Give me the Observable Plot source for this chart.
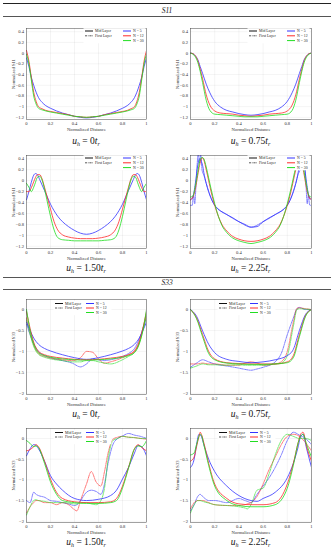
<!DOCTYPE html>
<html><head><meta charset="utf-8">
<script src="https://cdn.jsdelivr.net/npm/d3@7"></script>
<script src="https://cdn.jsdelivr.net/npm/@observablehq/plot@0.6"></script>
<style>
html,body{margin:0;padding:0;background:#fff;}
#fig{position:relative;width:334px;height:550px;overflow:hidden;font-family:"Liberation Serif","DejaVu Serif",serif;}
.rule{position:absolute;left:3px;width:328px;}
.sec{position:absolute;left:0;width:334px;text-align:center;font-style:italic;font-size:7.5px;line-height:8px;color:#222}
.cap{position:absolute;width:160px;text-align:center;font-size:9.5px;line-height:10px;color:#111;white-space:nowrap}
.cap sub{font-size:6px;vertical-align:-2px;line-height:0}
.panel{position:absolute}
</style></head><body><div id="fig"></div>
<script>
// ---------- data ----------
const Ns = [5, 12, 30];
const nColors = ["#3535ff", "#ff2a2a", "#22dd22"];
const xTicks = [0, 0.2, 0.4, 0.6, 0.8, 1];
const s11Ticks = [0.4, 0.2, 0, -0.2, -0.4, -0.6, -0.8, -1, -1.2];
const s33Ticks = [0, -0.5, -1, -1.5, -2];
const legendLayers = ["Mid Layer", "First Layer"];
const legendNs = ["N = 5", "N = 12", "N = 30"];
const sectionTitles = ["S11", "S33"];
const captionValues = ["0", "0.75", "1.50", "2.25"];

// S11, u_h = 0 t_r
const x_s11_u0 = [0,.02,.04,.06,.08,.1,.13,.16,.2,.25,.3,.35,.4,.45,.5,.55,.6,.65,.7,.75,.8,.84,.87,.9,.92,.94,.96,.98,1];
const s11_u0_n5  = [-.09,-.25,-.45,-.6,-.73,-.83,-.92,-.98,-1.03,-1.08,-1.12,-1.15,-1.18,-1.2,-1.21,-1.2,-1.18,-1.15,-1.12,-1.08,-1.03,-.98,-.92,-.83,-.73,-.6,-.45,-.25,-.09];
const s11_u0_n12 = [.05,-.15,-.45,-.73,-.9,-1.0,-1.04,-1.07,-1.09,-1.11,-1.13,-1.15,-1.18,-1.19,-1.2,-1.19,-1.18,-1.15,-1.13,-1.11,-1.09,-1.07,-1.04,-1.0,-.9,-.73,-.45,-.15,.05];
const s11_u0_n30 = [-.02,-.2,-.5,-.8,-.95,-1.03,-1.06,-1.08,-1.1,-1.12,-1.14,-1.16,-1.18,-1.19,-1.2,-1.19,-1.18,-1.16,-1.14,-1.12,-1.1,-1.08,-1.06,-1.03,-.95,-.8,-.5,-.2,-.02];

// S11, u_h = 0.75 t_r
const x_s11_u075 = [0,.02,.04,.06,.08,.1,.13,.16,.2,.25,.3,.35,.4,.45,.5,.55,.6,.65,.7,.75,.8,.84,.87,.9,.92,.94,.96,.98,1];
const s11_u075_n5  = [0,-.01,-.05,-.12,-.25,-.38,-.58,-.74,-.9,-1.01,-1.07,-1.1,-1.13,-1.15,-1.16,-1.15,-1.13,-1.1,-1.07,-1.01,-.9,-.74,-.58,-.38,-.25,-.12,-.05,-.01,0];
const s11_u075_n12 = [0,-.01,-.05,-.14,-.3,-.48,-.78,-.97,-1.08,-1.12,-1.13,-1.14,-1.16,-1.17,-1.18,-1.17,-1.16,-1.14,-1.13,-1.12,-1.08,-.97,-.78,-.48,-.3,-.14,-.05,-.01,0];
const s11_u075_n30 = [0,-.02,-.07,-.17,-.34,-.55,-.88,-1.07,-1.14,-1.15,-1.16,-1.17,-1.18,-1.19,-1.19,-1.19,-1.18,-1.17,-1.16,-1.15,-1.14,-1.07,-.88,-.55,-.34,-.17,-.07,-.02,0];

// S11, u_h = 1.50 t_r
const x_s11_u150 = [0,.02,.04,.06,.075,.09,.11,.13,.15,.17,.2,.23,.26,.3,.35,.4,.45,.5,.55,.6,.65,.7,.74,.77,.8,.83,.85,.87,.89,.91,.925,.94,.96,.98,1];
const s11_u150_n5  = [-.35,-.2,-.03,.1,.13,.11,.02,-.08,-.18,-.28,-.43,-.55,-.65,-.75,-.84,-.91,-.96,-.98,-.96,-.91,-.84,-.75,-.65,-.55,-.43,-.28,-.18,-.08,.02,.11,.13,.1,-.03,-.2,-.35];
const s11_u150_n12 = [-.2,-.2,-.13,-.02,.06,.11,.11,.03,-.12,-.28,-.52,-.75,-.9,-.99,-1.03,-1.05,-1.06,-1.06,-1.06,-1.05,-1.03,-.99,-.9,-.75,-.52,-.28,-.12,.03,.11,.11,.06,-.02,-.13,-.2,-.2];
const s11_u150_n30 = [-.05,-.12,-.2,-.12,-.03,.06,.08,.01,-.15,-.35,-.65,-.9,-1.04,-1.08,-1.09,-1.1,-1.1,-1.1,-1.1,-1.1,-1.09,-1.08,-1.04,-.9,-.65,-.35,-.15,.01,.08,.06,-.03,-.12,-.2,-.12,-.05];

// S11, u_h = 2.25 t_r
const x_s11_u225 = [0,.02,.04,.06,.075,.09,.1,.11,.13,.15,.17,.2,.23,.26,.3,.35,.4,.45,.5,.55,.6,.65,.7,.74,.77,.8,.83,.85,.87,.89,.9,.91,.925,.94,.96,.98,1];
const s11_u225_n5  = [-.35,-.3,-.05,.28,.4,.35,.28,.15,-.05,-.2,-.32,-.45,-.52,-.57,-.62,-.68,-.75,-.8,-.85,-.84,-.75,-.68,-.62,-.57,-.52,-.45,-.32,-.2,-.05,.15,.28,.35,.4,.28,-.05,-.3,-.35];
const s11_u225_n12 = [-.35,-.3,-.15,.1,.28,.4,.42,.38,.2,0,-.2,-.45,-.65,-.8,-.92,-1.02,-1.07,-1.1,-1.11,-1.1,-1.07,-1.02,-.92,-.8,-.65,-.45,-.2,0,.2,.38,.42,.4,.28,.1,-.15,-.3,-.35];
const s11_u225_n30 = [-.3,-.28,-.1,.15,.35,.42,.42,.4,.25,.05,-.15,-.42,-.65,-.82,-.95,-1.05,-1.1,-1.13,-1.15,-1.13,-1.1,-1.05,-.95,-.82,-.65,-.42,-.15,.05,.25,.4,.42,.42,.35,.15,-.1,-.28,-.3];
const xf_s11_u225 = [0,.015,.025,.035,.045,.055,.065,.075,.085,.095,.11,.13,.15,.2,.3,.4,.5,.6,.7,.8,.85,.87,.89,.905,.915,.925,.935,.945,.955,.965,.975,.985,1];
const s11_u225_first_n5 = [-.45,-.45,-.25,-.42,-.1,.3,.5,.32,.48,.2,.1,-.05,-.2,-.45,-.62,-.75,-.85,-.75,-.62,-.45,-.2,-.05,.12,.2,.48,.32,.5,.3,-.1,-.42,-.25,-.45,-.45];

// S33, u_h = 0 t_r
const x_s33_u0_mid = [0,.03,.06,.1,.15,.2,.3,.4,.5,.6,.7,.8,.85,.9,.94,.97,1];
const s33_u0_mid_n5  = [-.3,-.5,-.68,-.83,-.93,-.99,-1.08,-1.15,-1.19,-1.15,-1.08,-.99,-.93,-.83,-.68,-.5,-.3];
const s33_u0_mid_n12 = [-.05,-.45,-.78,-1.0,-1.08,-1.12,-1.16,-1.19,-1.2,-1.19,-1.16,-1.12,-1.08,-1.0,-.78,-.45,-.05];
const s33_u0_mid_n30 = [0,-.5,-.82,-1.03,-1.1,-1.14,-1.18,-1.2,-1.21,-1.2,-1.18,-1.14,-1.1,-1.03,-.82,-.5,0];
const x_s33_u0_first = [0,.03,.06,.1,.15,.2,.3,.38,.45,.5,.55,.6,.65,.7,.8,.85,.9,.94,.97,1];
const s33_u0_first_n5  = [-.35,-.6,-.82,-1.0,-1.1,-1.15,-1.22,-1.28,-1.37,-1.3,-1.18,-1.2,-1.22,-1.2,-1.12,-1.05,-.93,-.7,-.45,-.2];
const s33_u0_first_n12 = [-.2,-.55,-.85,-1.05,-1.12,-1.16,-1.2,-1.22,-1.15,-1.0,-1.02,-1.18,-1.28,-1.25,-1.15,-1.08,-.98,-.75,-.45,-.1];
const s33_u0_first_n30 = [-.25,-.6,-.88,-1.07,-1.14,-1.18,-1.22,-1.25,-1.25,-1.22,-1.22,-1.25,-1.28,-1.3,-1.2,-1.12,-1.02,-.8,-.5,-.15];

// S33, u_h = 0.75 t_r
const x_s33_u075_mid = [0,.05,.1,.15,.2,.3,.4,.5,.6,.7,.8,.85,.9,.95,1];
const s33_u075_mid_n5  = [0,-.16,-.51,-.83,-1.03,-1.19,-1.24,-1.27,-1.25,-1.2,-1.1,-.95,-.5,-.12,0];
const s33_u075_mid_n12 = [0,-.2,-.6,-1.0,-1.18,-1.27,-1.29,-1.3,-1.3,-1.3,-1.25,-1.1,-.6,-.15,0];
const s33_u075_mid_n30 = [0,-.22,-.65,-1.05,-1.2,-1.28,-1.3,-1.31,-1.31,-1.3,-1.27,-1.15,-.65,-.17,0];
const x_s33_u075_first = [0,.05,.1,.15,.2,.3,.4,.45,.5,.55,.6,.7,.75,.8,.85,.88,.9,.95,1];
const s33_u075_first_n5  = [-1.38,-1.28,-1.2,-1.25,-1.3,-1.35,-1.4,-1.43,-1.45,-1.42,-1.38,-1.25,-1.05,-.6,-.2,.02,.05,0,0];
const s33_u075_first_n12 = [-1.3,-1.3,-1.28,-1.3,-1.3,-1.33,-1.33,-1.28,-1.25,-1.28,-1.33,-1.3,-1.25,-1.0,-.3,.03,.04,.02,0];
const s33_u075_first_n30 = [-1.4,-1.35,-1.3,-1.32,-1.32,-1.33,-1.32,-1.33,-1.33,-1.33,-1.33,-1.3,-1.28,-1.1,-.4,0,.02,.01,0];

// S33, u_h = 1.50 t_r
const x_s33_u150_mid = [0,.03,.06,.08,.1,.15,.2,.25,.3,.4,.5,.6,.7,.75,.8,.85,.9,.93,.96,1];
const s33_u150_mid_n5  = [-.42,-.25,-.15,-.17,-.25,-.55,-.9,-1.1,-1.25,-1.45,-1.5,-1.47,-1.38,-1.25,-.98,-.7,-.35,-.17,-.2,-.42];
const s33_u150_mid_n12 = [-.3,-.27,-.2,-.15,-.2,-.55,-.98,-1.3,-1.45,-1.53,-1.55,-1.55,-1.53,-1.45,-1.15,-.7,-.25,-.15,-.22,-.3];
const s33_u150_mid_n30 = [-.05,-.12,-.2,-.18,-.22,-.6,-1.05,-1.35,-1.5,-1.55,-1.57,-1.57,-1.55,-1.5,-1.2,-.72,-.25,-.18,-.2,-.05];
const x_s33_u150_first = [0,.03,.06,.08,.1,.15,.2,.25,.3,.35,.4,.42,.45,.5,.54,.58,.62,.65,.68,.72,.76,.8,.85,.9,.95,1];
const s33_u150_first_n5  = [-1.5,-1.55,-1.3,-1.35,-1.38,-1.42,-1.5,-1.52,-1.55,-1.58,-1.62,-1.6,-1.5,-1.3,-1.25,-1.28,-1.35,-1.1,-.6,-.15,0,.06,.12,.08,.05,0];
const s33_u150_first_n12 = [-1.8,-1.65,-1.55,-1.5,-1.5,-1.55,-1.55,-1.6,-1.55,-1.6,-1.72,-1.75,-1.5,-1.1,-.8,-1.05,-1.15,-.8,-.35,-.02,.03,.05,.03,.02,0,-.02];
const s33_u150_first_n30 = [-1.85,-1.65,-1.5,-1.48,-1.5,-1.52,-1.55,-1.55,-1.55,-1.56,-1.58,-1.58,-1.56,-1.55,-1.58,-1.6,-1.5,-1.2,-.5,-.05,0,.05,.03,.02,0,0];

// S33, u_h = 2.25 t_r
const x_s33_u225_mid = [0,.03,.05,.07,.08,.09,.11,.15,.2,.3,.4,.5,.55,.6,.7,.8,.85,.89,.91,.93,.96,1];
const s33_u225_mid_n5  = [-.7,-.5,-.15,.1,.08,.05,-.15,-.5,-.8,-1.15,-1.38,-1.5,-1.52,-1.45,-1.3,-.95,-.6,-.2,.05,.1,-.25,-.7];
const s33_u225_mid_n12 = [-.55,-.45,-.2,.05,.15,.1,-.1,-.6,-1.1,-1.45,-1.58,-1.6,-1.6,-1.6,-1.55,-1.1,-.6,-.1,.1,.15,-.2,-.55];
const s33_u225_mid_n30 = [-.4,-.35,-.15,.05,.1,.08,-.15,-.65,-1.15,-1.5,-1.62,-1.65,-1.65,-1.65,-1.6,-1.2,-.65,-.1,.05,.1,-.15,-.45];
const x_s33_u225_first = [0,.03,.06,.08,.1,.15,.2,.3,.4,.45,.47,.5,.55,.6,.65,.7,.75,.8,.85,.9,.95,1];
const s33_u225_first_n5  = [-1.75,-1.6,-1.4,-1.35,-1.4,-1.5,-1.5,-1.55,-1.45,-1.5,-1.52,-1.55,-1.35,-1.15,-.95,-.7,-.4,-.05,.15,.08,0,-.15];
const s33_u225_first_n12 = [-1.7,-1.55,-1.5,-1.5,-1.5,-1.55,-1.6,-1.62,-1.62,-1.6,-1.58,-1.55,-1.4,-1.1,-.75,-.45,-.15,.05,.1,.05,-.1,-.3];
const s33_u225_first_n30 = [-1.8,-1.6,-1.5,-1.5,-1.52,-1.56,-1.6,-1.62,-1.65,-1.68,-1.7,-1.6,-1.25,-1.2,-.85,-.4,-.05,.1,.05,0,0,-.05];

// ---------- helpers ----------
function rows(xs, seriesList, nList) {
  const out = [];
  seriesList.forEach((ys, i) => ys.forEach((y, j) => out.push({x: xs[j], y, N: nList[i]})));
  return out;
}
const fmt = d => (d < 0 ? "\u2212" : "") + String(Math.abs(d));
const fig = document.getElementById("fig");

function addRule(y, h, color) {
  const d = document.createElement("div");
  d.className = "rule";
  d.style.top = y + "px"; d.style.height = h + "px"; d.style.background = color;
  fig.appendChild(d);
}
function addSection(title, y) {
  const d = document.createElement("div");
  d.className = "sec"; d.style.top = y + "px"; d.textContent = title;
  fig.appendChild(d);
}
function addCaption(val, cx, y) {
  const d = document.createElement("div");
  d.className = "cap";
  d.style.left = (cx - 80) + "px"; d.style.top = y + "px";
  d.innerHTML = '<i>u</i><sub><i>h</i></sub> = ' + val + '<i>t</i><sub><i>r</i></sub>';
  fig.appendChild(d);
}

function panel(p) {
  const width = 167;
  const height = p.mt + p.frameH + p.mb;
  const chart = Plot.plot({
    width, height,
    marginLeft: p.mL, marginRight: p.mR, marginTop: p.mt, marginBottom: p.mb,
    style: {fontFamily: '"Liberation Serif", serif', fontSize: "4.6px", background: "transparent", color: "#333", overflow: "visible"},
    x: {domain: [0, 1]},
    y: {domain: p.yDomain},
    color: {type: "ordinal", domain: Ns, range: nColors},
    marks: [
      Plot.gridX(xTicks, {stroke: "#000", strokeOpacity: 0.09, strokeWidth: 0.5}),
      Plot.gridY(p.yTicks, {stroke: "#000", strokeOpacity: 0.09, strokeWidth: 0.5}),
      Plot.axisX(xTicks, {tickSize: 0, tickPadding: 2.5, tickFormat: fmt, label: "Normalized Distance", labelAnchor: "center", labelArrow: "none", labelOffset: 11}),
      Plot.axisY(p.yTicks, {tickSize: 0, tickPadding: 2.5, tickFormat: fmt, label: p.yLabel, labelAnchor: "center", labelArrow: "none", labelOffset: 15}),
      ...p.first.map(f => Plot.line(f, {x: "x", y: "y", z: "N", stroke: "N", strokeWidth: 0.75, strokeOpacity: 0.85, strokeDasharray: "2.6,1,0.7,1", curve: "monotone-x", clip: true})),
      ...p.mid.map(m => Plot.line(m, {x: "x", y: "y", z: "N", stroke: "N", strokeWidth: 0.95, strokeOpacity: 0.85, curve: "monotone-x", clip: true})),
      Plot.frame({stroke: "#444", strokeWidth: 0.5})
    ]
  });
  // legend
  const L = p.legend;
  const g = d3.select(chart).append("g")
    .attr("transform", `translate(${p.mL},${p.mt})`)
    .attr("font-size", 3.8).attr("fill", "#222").attr("text-anchor", "start")
    .attr("font-family", '"Liberation Serif", serif');
  g.append("rect").attr("x", L.lx - 1.5).attr("y", L.y0 - 2.8)
    .attr("width", L.w).attr("height", L.dy * 2 + 5.5).attr("fill", "#fff");
  legendLayers.forEach((t, i) => {
    const y = L.y0 + i * L.dy;
    g.append("line").attr("x1", L.lx).attr("x2", L.lx + 8).attr("y1", y).attr("y2", y)
      .attr("stroke", "#111").attr("stroke-width", i === 0 ? 1 : 0.7)
      .attr("stroke-dasharray", i === 0 ? null : "2.2,0.8,0.6,0.8");
    g.append("text").attr("x", L.lx + 10).attr("y", y).attr("dy", "0.35em").attr("text-anchor", "start").text(t);
  });
  legendNs.forEach((t, i) => {
    const y = L.y0 + i * L.dy;
    g.append("line").attr("x1", L.rx).attr("x2", L.rx + 8).attr("y1", y).attr("y2", y)
      .attr("stroke", nColors[i]).attr("stroke-width", 1);
    g.append("text").attr("x", L.rx + 10).attr("y", y).attr("dy", "0.35em").attr("text-anchor", "start").text(t);
  });
  const wrap = document.createElement("div");
  wrap.className = "panel";
  wrap.style.left = p.left + "px"; wrap.style.top = p.top + "px";
  wrap.appendChild(chart);
  fig.appendChild(wrap);
  addCaption(p.caption, p.left + p.mL + (width - p.mL - p.mR) / 2, p.capY);
}

// ---------- layout ----------
addRule(2.5, 1.2, "#222");
addSection(sectionTitles[0], 6.5);
addRule(16.2, 0.8, "#555");
addRule(276.6, 0.8, "#555");
addSection(sectionTitles[1], 279);
addRule(288.8, 0.8, "#555");

const s11Dom = [-1.24, 0.46];
const s33Dom = [-2.03, 0.24];
const legS11 = {lx: 59, rx: 97, y0: 3, dy: 4.8, w: 62};
const legS33 = {lx: 29, rx: 60, y0: 4.5, dy: 4.5, w: 58};
const colL = {left: 0, mL: 26, mR: 21};
const colR = {left: 167, mL: 23, mR: 23};

const panels = [
  {...colL, top: 24, mt: 4, frameH: 91, mb: 14, yDomain: s11Dom, yTicks: s11Ticks, yLabel: "Normalized S11", legend: legS11, caption: captionValues[0], capY: 136,
    mid: [rows(x_s11_u0, [s11_u0_n5, s11_u0_n12, s11_u0_n30], Ns)], first: []},
  {...colR, top: 24, mt: 4, frameH: 91, mb: 14, yDomain: s11Dom, yTicks: s11Ticks, yLabel: "Normalized S11", legend: legS11, caption: captionValues[1], capY: 136,
    mid: [rows(x_s11_u075, [s11_u075_n5, s11_u075_n12, s11_u075_n30], Ns)], first: []},
  {...colL, top: 151, mt: 4, frameH: 93, mb: 14, yDomain: s11Dom, yTicks: s11Ticks, yLabel: "Normalized S11", legend: legS11, caption: captionValues[2], capY: 263,
    mid: [rows(x_s11_u150, [s11_u150_n5, s11_u150_n12, s11_u150_n30], Ns)], first: []},
  {...colR, top: 151, mt: 4, frameH: 93, mb: 14, yDomain: s11Dom, yTicks: s11Ticks, yLabel: "Normalized S11", legend: legS11, caption: captionValues[3], capY: 263,
    mid: [rows(x_s11_u225, [s11_u225_n5, s11_u225_n12, s11_u225_n30], Ns)],
    first: [rows(xf_s11_u225, [s11_u225_first_n5], [5])]},
  {...colL, top: 295, mt: 4, frameH: 95, mb: 14, yDomain: s33Dom, yTicks: s33Ticks, yLabel: "Normalized S33", legend: legS33, caption: captionValues[0], capY: 409,
    mid: [rows(x_s33_u0_mid, [s33_u0_mid_n5, s33_u0_mid_n12, s33_u0_mid_n30], Ns)],
    first: [rows(x_s33_u0_first, [s33_u0_first_n5, s33_u0_first_n12, s33_u0_first_n30], Ns)]},
  {...colR, top: 295, mt: 4, frameH: 95, mb: 14, yDomain: s33Dom, yTicks: s33Ticks, yLabel: "Normalized S33", legend: legS33, caption: captionValues[1], capY: 409,
    mid: [rows(x_s33_u075_mid, [s33_u075_mid_n5, s33_u075_mid_n12, s33_u075_mid_n30], Ns)],
    first: [rows(x_s33_u075_first, [s33_u075_first_n5, s33_u075_first_n12, s33_u075_first_n30], Ns)]},
  {...colL, top: 424, mt: 4, frameH: 94, mb: 14, yDomain: s33Dom, yTicks: s33Ticks, yLabel: "Normalized S33", legend: legS33, caption: captionValues[2], capY: 537,
    mid: [rows(x_s33_u150_mid, [s33_u150_mid_n5, s33_u150_mid_n12, s33_u150_mid_n30], Ns)],
    first: [rows(x_s33_u150_first, [s33_u150_first_n5, s33_u150_first_n12, s33_u150_first_n30], Ns)]},
  {...colR, top: 424, mt: 4, frameH: 94, mb: 14, yDomain: s33Dom, yTicks: s33Ticks, yLabel: "Normalized S33", legend: legS33, caption: captionValues[3], capY: 537,
    mid: [rows(x_s33_u225_mid, [s33_u225_mid_n5, s33_u225_mid_n12, s33_u225_mid_n30], Ns)],
    first: [rows(x_s33_u225_first, [s33_u225_first_n5, s33_u225_first_n12, s33_u225_first_n30], Ns)]}
];
panels.forEach(panel);
</script></body></html>
